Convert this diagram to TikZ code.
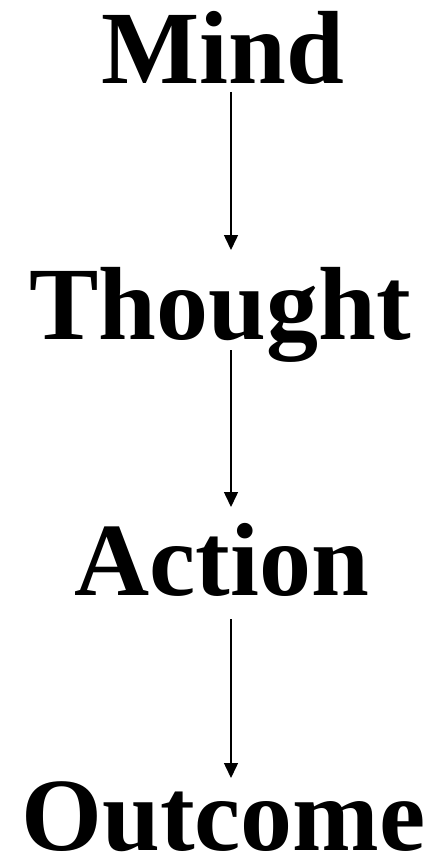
\documentclass[tikz,border=0pt]{standalone}
\usepackage{fontspec}
\setmainfont{Liberation Serif}
\usetikzlibrary{arrows.meta}

\begin{document}
\begin{tikzpicture}[x=1pt,y=-1pt,
  word/.style={anchor=base, inner sep=0pt, font=\fontsize{104}{104}\selectfont\bfseries},
  link/.style={line width=1.5pt, -{Triangle[width=14pt,length=15pt]}}]

  % Frame
  \useasboundingbox (0,0) rectangle (436,856);

  % Words
  \node[word] (mind) at (222.5,84) {Mind};
  \node[word] (thought) at (220,339) {Thought};
  \node[word] (action) at (222,595) {Action};
  \node[word] (outcome) at (223.5,850) {Outcome};

  % Arrow axis
  \coordinate (axis) at (231,0);

  % Arrows
  \draw[link] ([yshift=-8pt]mind.base -| axis) -- ([yshift=89pt]thought.base -| axis);
  \draw[link] ([yshift=-11pt]thought.base -| axis) -- ([yshift=88pt]action.base -| axis);
  \draw[link] ([yshift=-24pt]action.base -| axis) -- ([yshift=72pt]outcome.base -| axis);
\end{tikzpicture}
\end{document}
